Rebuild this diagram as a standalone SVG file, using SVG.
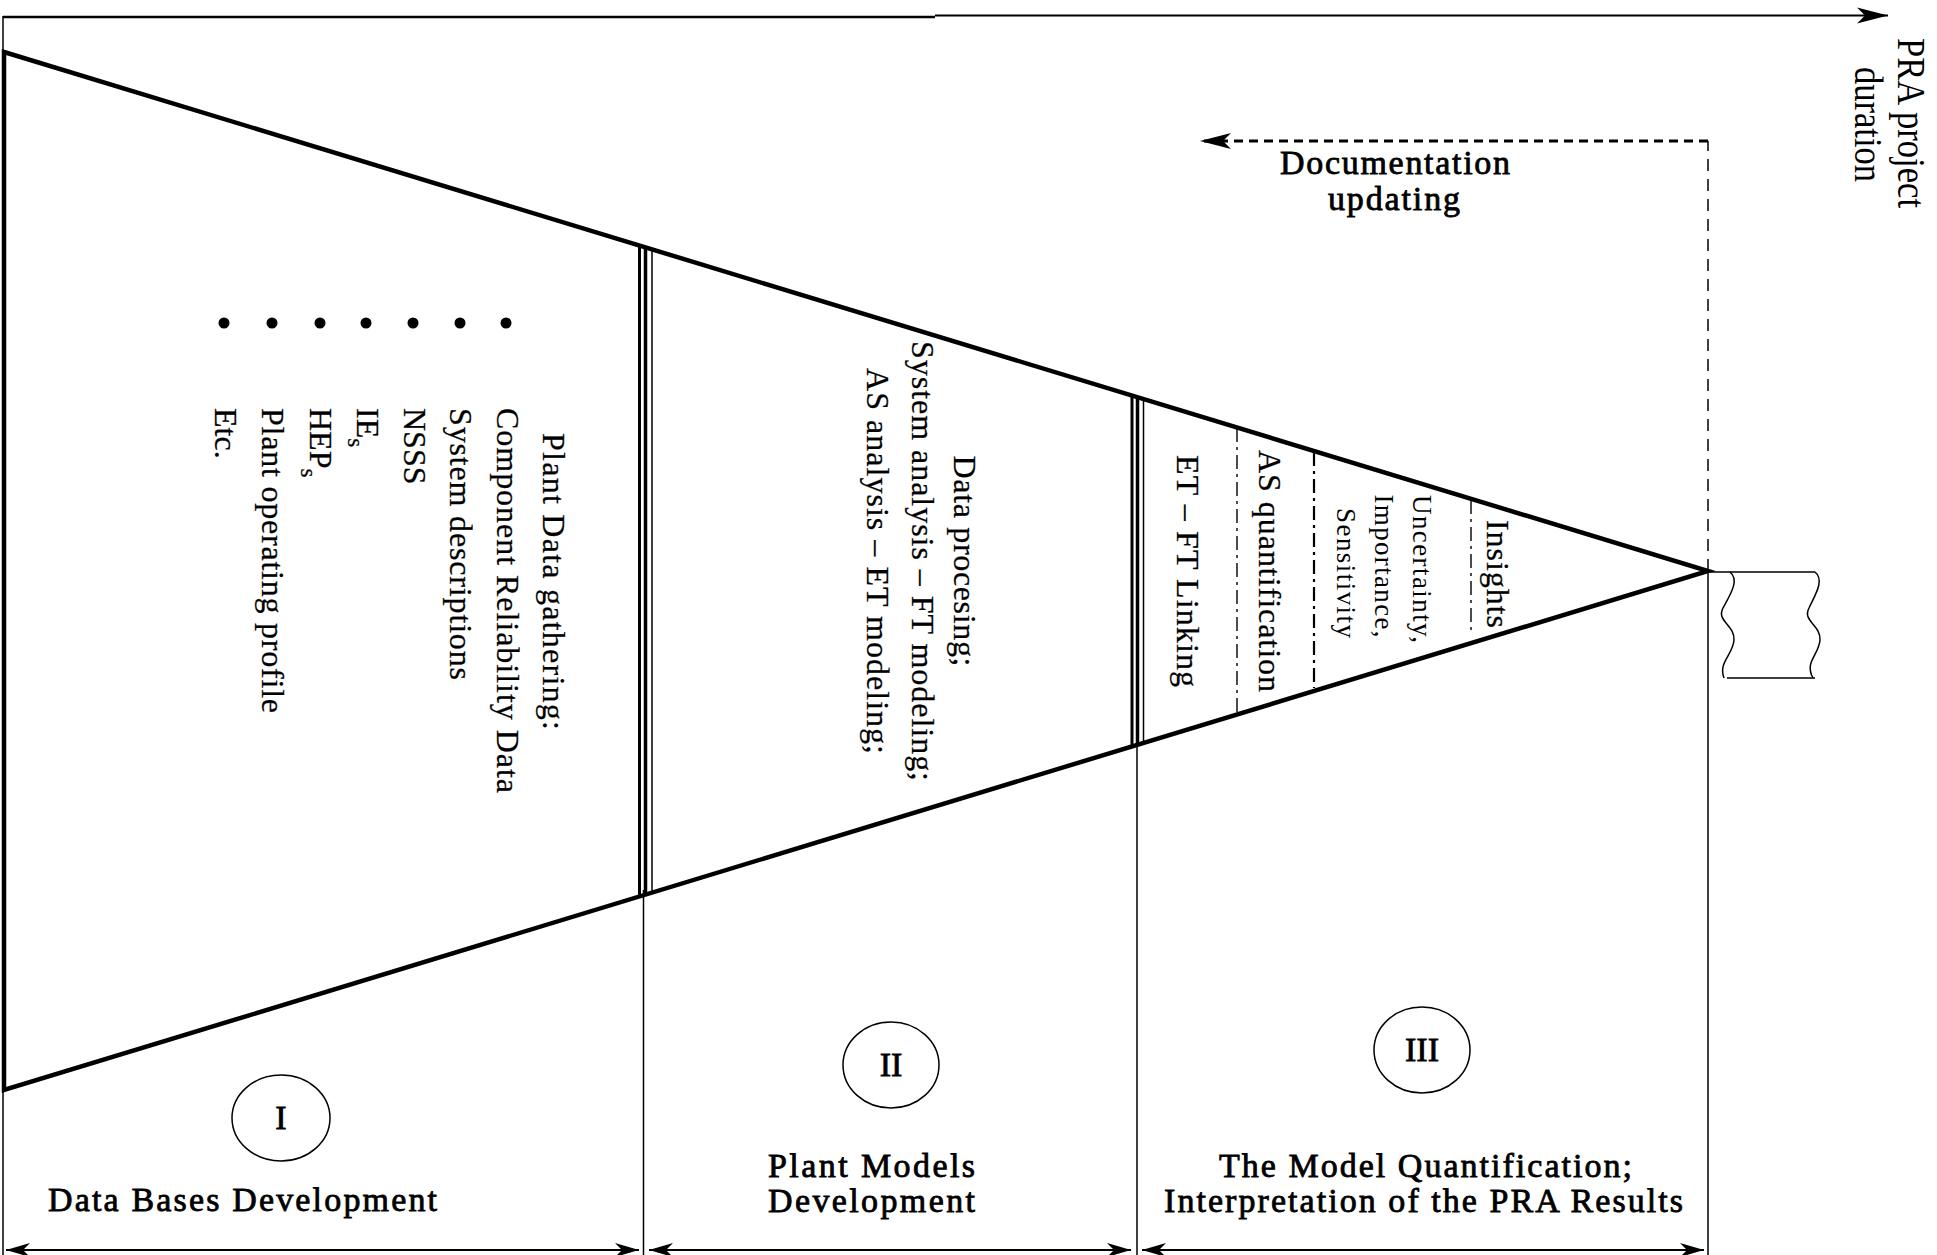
<svg xmlns="http://www.w3.org/2000/svg" width="1937" height="1255" viewBox="0 0 1937 1255">
<style>
.t{font-family:'Liberation Serif','Times New Roman',serif;fill:#000}
.lbl{font-size:34px;stroke:#000;stroke-width:0.8}
.rot{font-size:32px;stroke:#000;stroke-width:0.25}
.sm{font-size:27px}
.thin{stroke:#000;stroke-width:1.5;fill:none}
.edge{stroke:#000;stroke-width:4.5;fill:none;stroke-linejoin:miter}
.dd{stroke:#000;fill:none;stroke-dasharray:14 5 3 5}
</style>
<defs>
<clipPath id="tri"><polygon points="4,52 1708,571 4,1090"/></clipPath>
<marker id="ah" viewBox="-26 -10 28 20" markerWidth="28" markerHeight="20" refX="0" refY="0" markerUnits="userSpaceOnUse" orient="auto-start-reverse">
<path d="M0,0 L-24,-7 L-17,0 L-24,7 Z" fill="#000"/>
</marker>
<marker id="ahT" viewBox="-34 -10 36 20" markerWidth="36" markerHeight="20" refX="0" refY="0" markerUnits="userSpaceOnUse" orient="auto">
<path d="M0,0 L-31,-8 L-23,0 L-31,8 Z" fill="#000"/>
</marker>
</defs>
<rect width="1937" height="1255" fill="#fff"/>

<g id="frame">
<line class="thin" x1="3" y1="16" x2="3" y2="1255"/>
<line class="thin" x1="643.5" y1="890" x2="643.5" y2="1255"/>
<line class="thin" x1="1137" y1="740" x2="1137" y2="1255"/>
<line class="thin" x1="1708" y1="571" x2="1708" y2="1255"/>
</g>

<g id="funnel">
<polygon class="edge" points="4,52 1708,571 4,1090"/>
<g clip-path="url(#tri)" stroke="#000">
<line x1="639.5" y1="200" x2="639.5" y2="950" stroke-width="3"/>
<line x1="645.5" y1="200" x2="645.5" y2="950" stroke-width="3.5"/>
<line x1="652" y1="200" x2="652" y2="950" stroke-width="1.5"/>
<line x1="1132" y1="350" x2="1132" y2="800" stroke-width="3"/>
<line x1="1137.5" y1="350" x2="1137.5" y2="800" stroke-width="3.5"/>
<line x1="1143.5" y1="350" x2="1143.5" y2="800" stroke-width="1.5"/>
</g>
</g>

<g id="phase1-content">
<g fill="#000">
<circle cx="224" cy="323" r="5.5"/><circle cx="272" cy="323" r="5.5"/><circle cx="320" cy="323" r="5.5"/><circle cx="366" cy="323" r="5.5"/><circle cx="413" cy="323" r="5.5"/><circle cx="460" cy="323" r="5.5"/><circle cx="506" cy="323" r="5.5"/>
</g>
<text class="t rot" transform="translate(543,433) rotate(90)" textLength="297" lengthAdjust="spacing">Plant Data gathering:</text>
<text class="t rot" transform="translate(497,408) rotate(90)" textLength="385" lengthAdjust="spacing">Component Reliability Data</text>
<text class="t rot" transform="translate(450,408) rotate(90)" textLength="272" lengthAdjust="spacing">System descriptions</text>
<text class="t rot" transform="translate(404,408) rotate(90)">NSSS</text>
<text class="t rot" transform="translate(357,408) rotate(90)">IE<tspan font-size="23" dy="9">s</tspan></text>
<text class="t rot" transform="translate(310,408) rotate(90)">HEP<tspan font-size="23" dy="9">s</tspan></text>
<text class="t rot" transform="translate(262,408) rotate(90)" textLength="305" lengthAdjust="spacing">Plant operating profile</text>
<text class="t rot" transform="translate(215,408) rotate(90)">Etc.</text>
</g>

<g id="phase2-content">
<text class="t rot" text-anchor="middle" transform="translate(954,561) rotate(90)" textLength="211" lengthAdjust="spacing">Data procesing;</text>
<text class="t rot" text-anchor="middle" transform="translate(912,561) rotate(90)" textLength="440" lengthAdjust="spacing">System analysis – FT modeling;</text>
<text class="t rot" text-anchor="middle" transform="translate(867,561) rotate(90)" textLength="386" lengthAdjust="spacing">AS analysis – ET modeling;</text>
</g>

<g id="phase3-content">
<line class="dd" x1="1237" y1="428" x2="1237" y2="712" stroke-width="1.4"/>
<line class="dd" x1="1314" y1="452" x2="1314" y2="688" stroke-width="2.2"/>
<line class="dd" x1="1471" y1="500" x2="1471" y2="632" stroke-width="1.4"/>
<text class="t rot" text-anchor="middle" transform="translate(1176.5,571) rotate(90)" textLength="232" lengthAdjust="spacing">ET – FT Linking</text>
<text class="t rot" text-anchor="middle" transform="translate(1258.5,571) rotate(90)" textLength="242" lengthAdjust="spacing">AS quantification</text>
<text class="t sm" text-anchor="middle" transform="translate(1337,573) rotate(90)" textLength="130" lengthAdjust="spacing">Sensitivity</text>
<text class="t sm" text-anchor="middle" transform="translate(1375,566) rotate(90)" textLength="143" lengthAdjust="spacing">Importance,</text>
<text class="t sm" text-anchor="middle" transform="translate(1413,569) rotate(90)" textLength="148" lengthAdjust="spacing">Uncertainty,</text>
<text class="t rot" text-anchor="middle" transform="translate(1486.5,574) rotate(90)" textLength="108" lengthAdjust="spacing">Insights</text>
</g>

<g id="torn-sheet" class="thin">
<path d="M1708,572 H1815 M1727,678 H1815"/>
<path d="M1730,572 C1740,580 1730,595 1723,608 C1716,621 1735,625 1734,640 C1733,655 1718,662 1724,678"/>
<path d="M1815,572 C1825,580 1815,595 1809,608 C1802,621 1821,625 1820,640 C1819,655 1804,662 1813,678"/>
</g>

<g id="phase-I">
<ellipse class="thin" cx="281" cy="1118" rx="49" ry="43"/>
<text class="t lbl" x="281" y="1129" text-anchor="middle">I</text>
<text class="t lbl" x="48" y="1211" textLength="389" lengthAdjust="spacing">Data Bases Development</text>
</g>
<g id="phase-II">
<ellipse class="thin" cx="891" cy="1065" rx="48" ry="43"/>
<text class="t lbl" x="891" y="1076" text-anchor="middle">II</text>
<text class="t lbl" x="768" y="1177" textLength="207" lengthAdjust="spacing">Plant Models</text>
<text class="t lbl" x="768" y="1212" textLength="207" lengthAdjust="spacing">Development</text>
</g>
<g id="phase-III">
<ellipse class="thin" cx="1422" cy="1050" rx="48" ry="43"/>
<text class="t lbl" x="1422" y="1061" text-anchor="middle">III</text>
<text class="t lbl" x="1219" y="1177" textLength="413" lengthAdjust="spacing">The Model Quantification;</text>
<text class="t lbl" x="1164" y="1212" textLength="519" lengthAdjust="spacing">Interpretation of the PRA Results</text>
</g>

<g id="doc-label">
<text class="t lbl" x="1280" y="174" textLength="230" lengthAdjust="spacing">Documentation</text>
<text class="t lbl" x="1328" y="210" textLength="132" lengthAdjust="spacing">updating</text>
</g>

<g id="axis-label">
<text class="t" font-size="41" text-anchor="middle" transform="translate(1898,123) rotate(90)" textLength="170" lengthAdjust="spacingAndGlyphs">PRA project</text>
<text class="t" font-size="41" text-anchor="middle" transform="translate(1855,124.5) rotate(90)" textLength="115" lengthAdjust="spacingAndGlyphs">duration</text>
</g>

<g id="connectors">
<line x1="3" y1="17" x2="935" y2="17" stroke="#000" stroke-width="2.6"/>
<line x1="935" y1="15.5" x2="1888" y2="15.5" stroke="#000" stroke-width="2" marker-end="url(#ahT)"/>
<line x1="1708" y1="571" x2="1708" y2="141" stroke="#000" stroke-width="1.5" stroke-dasharray="12 8"/>
<line x1="1708" y1="141" x2="1200" y2="141" stroke="#000" stroke-width="3" stroke-dasharray="9 6" marker-end="url(#ahT)"/>
<line x1="6" y1="1250" x2="639" y2="1250" stroke="#000" stroke-width="2" marker-start="url(#ah)" marker-end="url(#ah)"/>
<line x1="649" y1="1250" x2="1131" y2="1250" stroke="#000" stroke-width="2" marker-start="url(#ah)" marker-end="url(#ah)"/>
<line x1="1142" y1="1250" x2="1704" y2="1250" stroke="#000" stroke-width="2" marker-start="url(#ah)" marker-end="url(#ah)"/>
</g>
</svg>
